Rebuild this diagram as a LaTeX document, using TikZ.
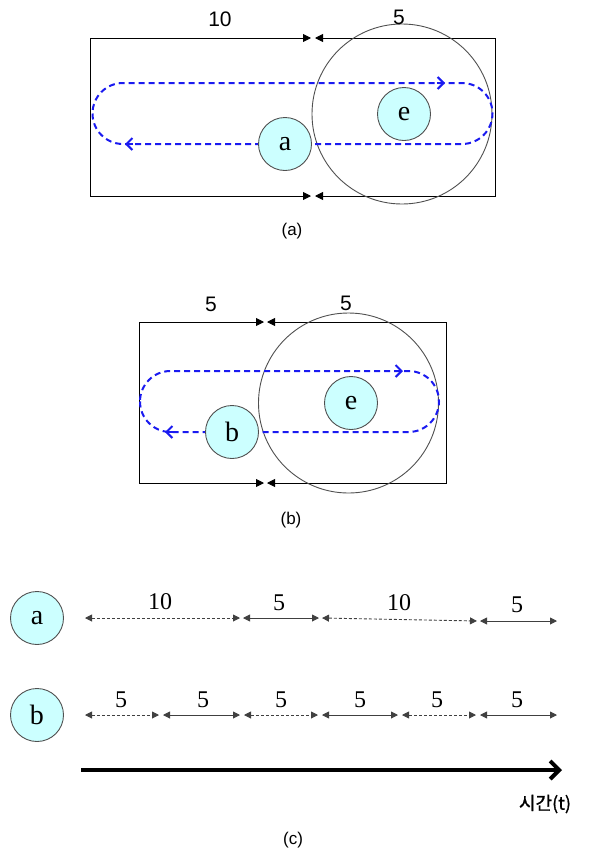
\documentclass[tikz,border=0pt]{standalone}
\usepackage{fontspec}
\setmainfont{Liberation Serif}
\newfontfamily\sansf{Liberation Sans}
\newfontfamily\krf[FakeBold=1]{Noto Sans CJK KR}
\usetikzlibrary{arrows.meta}
\definecolor{ballfill}{HTML}{CCFFFF}
\definecolor{ballline}{HTML}{505050}
\definecolor{pathblue}{HTML}{1A1AF0}
\definecolor{dimgray}{HTML}{404040}
\tikzset{
  ball/.style={circle, draw=ballline, fill=ballfill, line width=0.9pt, minimum size=53pt, inner sep=0pt, font=\fontsize{28}{30}\selectfont},
  bigcirc/.style={draw=ballline, line width=0.9pt},
  boxline/.style={draw=black, line width=0.9pt, {Triangle[length=8pt,width=8pt]}-{Triangle[length=8pt,width=8pt]}},
  bluepath/.style={draw=pathblue, line width=2pt, dash pattern=on 6pt off 4pt},
  bluehead/.style={draw=pathblue, line width=2pt, solid, -{Straight Barb[length=6pt,width=12pt]}},
  dimsolid/.style={draw=dimgray, line width=0.9pt, {Triangle[length=7pt,width=7pt]}-{Triangle[length=7pt,width=7pt]}},
  dimdash/.style={dimsolid, dash pattern=on 3pt off 2pt},
  toplabel/.style={font=\sansf\fontsize{21}{23}\selectfont, inner sep=0pt},
  seglabel/.style={font=\fontsize{24}{26}\selectfont, inner sep=0pt},
  caption/.style={font=\sansf\fontsize{17}{20}\selectfont, inner sep=0pt},
  timearrow/.style={draw=black, line width=4pt, -{Straight Barb[length=9pt,width=18pt]}}
}
\begin{document}
\begin{tikzpicture}[x=1pt,y=-1pt]
\useasboundingbox (0,0) rectangle (589,852);

% ---------- (a) ----------
\coordinate (aTL) at (90,38);
\coordinate (aTR) at (495,38);
\coordinate (aBL) at (90,196);
\coordinate (aBR) at (495,196);
\coordinate (aTm1) at (311,38);
\coordinate (aTm2) at (315,38);
\coordinate (aBm1) at (311,196);
\coordinate (aBm2) at (315,196);
\draw[boxline] (aTm1) -- (aTL) -- (aBL) -- (aBm1);
\draw[boxline] (aTm2) -- (aTR) -- (aBR) -- (aBm2);
\draw[bigcirc] (402,114) circle[radius=90];
\draw[bluepath, rounded corners=30.5pt] (92.5,83) rectangle (492.5,144);
\coordinate (aArr1s) at (437,83); \coordinate (aArr1e) at (445,83);
\coordinate (aArr2s) at (133,144); \coordinate (aArr2e) at (125,144);
\draw[bluehead] (aArr1s) -- (aArr1e);
\draw[bluehead] (aArr2s) -- (aArr2e);
\node[ball] (a1) at (285,144) {a};
\node[ball] (e1) at (404,114) {e};
\node[toplabel] (l10a) at (220,19) {10};
\node[toplabel] (l5a) at (399,17) {5};
\node[caption] (capa) at (292,231) {(a)};

% ---------- (b) ----------
\coordinate (bTL) at (139,322);
\coordinate (bTR) at (446,322);
\coordinate (bBL) at (139,483);
\coordinate (bBR) at (446,483);
\coordinate (bTm1) at (264,322);
\coordinate (bTm2) at (267,322);
\coordinate (bBm1) at (264,483);
\coordinate (bBm2) at (267,483);
\draw[boxline] (bTm1) -- (bTL) -- (bBL) -- (bBm1);
\draw[boxline] (bTm2) -- (bTR) -- (bBR) -- (bBm2);
\draw[bigcirc] (348.5,403) circle[radius=90];
\draw[bluepath, rounded corners=30.5pt] (140,371) rectangle (439,432);
\coordinate (bArr1s) at (395,371); \coordinate (bArr1e) at (403,371);
\coordinate (bArr2s) at (173,432); \coordinate (bArr2e) at (165,432);
\draw[bluehead] (bArr1s) -- (bArr1e);
\draw[bluehead] (bArr2s) -- (bArr2e);
\node[ball] (b1) at (232,432) {b};
\node[ball] (e2) at (351,403) {e};
\node[toplabel] (l5b1) at (211,304) {5};
\node[toplabel] (l5b2) at (346,303) {5};
\node[caption] (capb) at (291,520) {(b)};

% ---------- (c) ----------
\node[ball] (a2) at (37,618) {a};
\node[ball] (b2) at (37,715) {b};

% row a
\coordinate (ra0) at (85,618);
\coordinate (ra1) at (240,618);
\coordinate (ra2) at (243,618);
\coordinate (ra3) at (319,618);
\coordinate (ra4) at (322,618);
\coordinate (ra5) at (477,621);
\coordinate (ra6) at (480,621);
\coordinate (ra7) at (557,621);
\draw[dimdash] (ra0) -- (ra1);
\draw[dimsolid] (ra2) -- (ra3);
\draw[dimdash] (ra4) -- (ra5);
\draw[dimsolid] (ra6) -- (ra7);
\node[seglabel] (sa1) at (160,602) {10};
\node[seglabel] (sa2) at (279,603) {5};
\node[seglabel] (sa3) at (399,603) {10};
\node[seglabel] (sa4) at (517,605) {5};

% row b
\coordinate (rb0) at (85,715);
\coordinate (rb1) at (159,715);
\coordinate (rb2) at (163,715);
\coordinate (rb3) at (240,715);
\coordinate (rb4) at (244,715);
\coordinate (rb5) at (318,715);
\coordinate (rb6) at (322,715);
\coordinate (rb7) at (398,715);
\coordinate (rb8) at (402,715);
\coordinate (rb9) at (476,715);
\coordinate (rb10) at (480,715);
\coordinate (rb11) at (557,715);
\draw[dimdash] (rb0) -- (rb1);
\draw[dimsolid] (rb2) -- (rb3);
\draw[dimdash] (rb4) -- (rb5);
\draw[dimsolid] (rb6) -- (rb7);
\draw[dimdash] (rb8) -- (rb9);
\draw[dimsolid] (rb10) -- (rb11);
\node[seglabel] (sb1) at (121,700) {5};
\node[seglabel] (sb2) at (203,700) {5};
\node[seglabel] (sb3) at (281,700) {5};
\node[seglabel] (sb4) at (360,700) {5};
\node[seglabel] (sb5) at (437,700) {5};
\node[seglabel] (sb6) at (517,700) {5};

% time axis
\coordinate (t0) at (81,770);
\coordinate (t1) at (562,770);
\draw[timearrow] (t0) -- (t1);
\node[font=\krf\fontsize{18}{20}\selectfont, inner sep=0pt] (tlab) at (545,804) {시간(t)};
\node[caption] (capc) at (293,840) {(c)};
\end{tikzpicture}
\end{document}
